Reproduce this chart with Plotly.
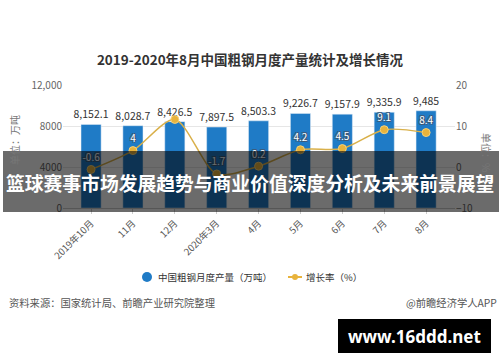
import plotly.graph_objects as go

months = ["2019年10月", "11月", "12月", "2020年3月", "4月", "5月", "6月", "7月", "8月"]
output = [8152.1, 8028.7, 8426.5, 7897.5, 8503.3, 9226.7, 9157.9, 9335.9, 9485]
growth = [-0.6, 4, 11.6, -1.7, 0.2, 4.2, 4.5, 9.1, 8.4]
growth_labels = ["-0.6", "4", "", "-1.7", "0.2", "4.2", "4.5", "9.1", "8.4"]
left_ticks = [0, 4000, 8000, 12000]
left_ticktext = ["0", "4000", "8000", "12,000"]
right_ticks = [-10, 0, 10, 20]

W, H = 500, 362
L, R, T, B = 63, 45, 85, 154
PW, PH = W - L - R, H - T - B
FONT = "Noto Sans CJK SC"


def px(x):
    return (x - L) / PW


def py(y):
    return (H - B - y) / PH


BLUE = "#1f7bc6"
GOLD = "#e8b33c"

fig = go.Figure()
xs = list(range(len(months)))
fig.add_trace(go.Bar(
    x=xs, y=output, width=0.48, marker_color=BLUE, showlegend=False,
    text=[f"{v:,}" for v in output], textposition="outside", cliponaxis=False,
    constraintext="none",
    textfont=dict(family=FONT, size=10.5, color="#333"),
))
fig.add_trace(go.Scatter(
    x=xs, y=growth, yaxis="y2", mode="lines+markers+text",
    line=dict(color="#d9b04a", width=1.5, shape="spline", smoothing=0.8),
    marker=dict(color=GOLD, size=8, line=dict(color="#f5d27a", width=1)),
    text=growth_labels, textposition="top center", showlegend=False,
    textfont=dict(family=FONT, size=10, color="white",
                  shadow="-1px -1px 0 #3d5a78, 1px -1px 0 #3d5a78, -1px 1px 0 #3d5a78, 1px 1px 0 #3d5a78"),
    cliponaxis=False,
))

fig.update_layout(
    width=W, height=H, margin=dict(l=L, r=R, t=T, b=B, autoexpand=False),
    paper_bgcolor="white", plot_bgcolor="white", showlegend=False,
    font=dict(family=FONT, color="#555"),
    title=dict(text="<b>2019-2020年8月中国粗钢月度产量统计及增长情况</b>", x=0.5, xanchor="center",
               y=1 - 60 / H, yanchor="middle", font=dict(family=FONT, size=13.5, color="#333")),
    xaxis=dict(range=[-0.67, 8.69], tickvals=xs, ticktext=months, tickangle=-45, automargin=False,
               showline=True, linecolor="#cccccc", ticks="outside", ticklen=5, tickcolor="#cccccc",
               showgrid=False, tickfont=dict(family=FONT, size=9.5, color="#555")),
    yaxis=dict(range=[0, 12000], tickvals=left_ticks, ticktext=left_ticktext, automargin=False,
               gridcolor="#e6e6e6", zeroline=False, tickfont=dict(family=FONT, size=10, color="#666")),
    yaxis2=dict(range=[-10, 20], tickvals=right_ticks, overlaying="y", side="right", automargin=False,
                showgrid=False, zeroline=False, tickfont=dict(family=FONT, size=10, color="#666")),
)

annotations = [
    dict(text="单位：万吨", x=px(14), y=py(140), textangle=-90, font=dict(size=10, color="#777")),
    dict(text="单位：%", x=px(487), y=py(152), textangle=90, font=dict(size=10, color="#777")),
    dict(text="中国粗钢月度产量（万吨）", x=px(156), y=py(277), xanchor="left", font=dict(size=9.5, color="#333")),
    dict(text="增长率（%）", x=px(304), y=py(277), xanchor="left", font=dict(size=9.5, color="#333")),
    dict(text="资料来源：国家统计局、前瞻产业研究院整理", x=px(7), y=py(302), xanchor="left",
         font=dict(size=10.3, color="#555")),
    dict(text="@前瞻经济学人APP", x=px(499), y=py(302), xanchor="right", font=dict(size=10.3, color="#555")),
    dict(text="<b>篮球赛事市场发展趋势与商业价值深度分析及未来前景展望</b>", x=px(250), y=py(182),
         font=dict(size=18.8, color="white")),
    dict(text="<b>www.16ddd.net</b>", x=px(414), y=py(336), font=dict(family="Noto Sans", size=17, color="white")),
]
for a in annotations:
    a.setdefault("xanchor", "center")
    a.update(xref="paper", yref="paper", yanchor="middle", showarrow=False)
    a["font"].setdefault("family", FONT)
fig.update_layout(annotations=annotations)

fig.update_layout(shapes=[
    # legend marks
    dict(type="circle", xref="paper", yref="paper", x0=px(142), x1=px(152), y0=py(272), y1=py(282),
         fillcolor=BLUE, line=dict(width=0)),
    dict(type="line", xref="paper", yref="paper", x0=px(288), x1=px(302), y0=py(277), y1=py(277),
         line=dict(color=GOLD, width=2)),
    dict(type="circle", xref="paper", yref="paper", x0=px(292), x1=px(298), y0=py(274), y1=py(280),
         fillcolor=GOLD, line=dict(width=0)),
    # overlay band and watermark
    dict(type="rect", xref="paper", yref="paper", x0=px(3), x1=px(499), y0=py(151), y1=py(212),
         fillcolor="rgba(0,0,0,0.58)", line=dict(width=0), layer="above"),
    dict(type="rect", xref="paper", yref="paper", x0=px(338), x1=px(491), y0=py(319), y1=py(353),
         fillcolor="black", line=dict(width=0), layer="above"),
])

fig.write_html("out.html", config={"displayModeBar": False},
               post_script="document.body.style.margin='0px';")
